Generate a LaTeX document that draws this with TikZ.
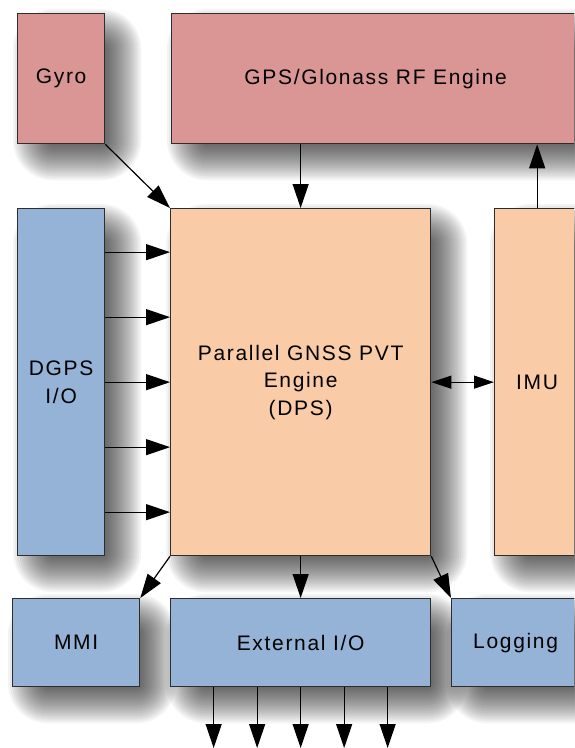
\documentclass[tikz,border=0pt]{standalone}
\usepackage{fontspec}
\setmainfont{Liberation Sans}[LetterSpace=8]
\usetikzlibrary{arrows.meta}
\pgfdeclarelayer{bg}
\pgfsetlayers{bg,main}
\definecolor{redf}{RGB}{217,150,148}
\definecolor{peachf}{RGB}{249,203,167}
\definecolor{bluef}{RGB}{149,179,215}
\definecolor{edge}{RGB}{45,45,45}
\tikzset{
  box/.style={draw=edge, line width=1.3pt, anchor=north west, inner sep=0pt,
    font=\fontsize{21}{27.5}\selectfont, align=center},
  arr/.style={-{Triangle[length=24pt,width=16pt]}, line width=1.2pt, draw=black},
  arrtwo/.style={{Triangle[length=20pt,width=13pt]}-{Triangle[length=20pt,width=13pt]}, line width=1.2pt, draw=black},
  shade layer/.style={fill=black, fill opacity=0.045}
}
\newcommand{\softshadow}[1]{%
  \begin{pgfonlayer}{bg}
  \foreach \e in {-20,-18,...,20} {
    \pgfmathsetmacro{\rr}{max(\e+20,1)}
    \fill[shade layer, rounded corners=\rr pt]
      ([shift={(16pt-\e pt,-16pt+\e pt)}]#1.north west) rectangle
      ([shift={(16pt+\e pt,-16pt-\e pt)}]#1.south east);
  }
  \end{pgfonlayer}}
\begin{document}
\begin{tikzpicture}[x=1pt,y=-1pt]
\clip (0,0) rectangle (574,748);
\begin{pgfonlayer}{bg}
\fill[white] (0,0) rectangle (574,748);
\end{pgfonlayer}
\node[box, fill=redf, minimum width=87pt, minimum height=130pt] (gyro) at (17,13) {Gyro};
\node[box, fill=redf, minimum width=408pt, minimum height=130pt] (gps) at (171,13) {GPS/Glonass RF Engine};
\node[box, fill=bluef, minimum width=87pt, minimum height=347pt] (dgps) at (17,208) {DGPS\\I/O};
\node[box, fill=peachf, minimum width=260pt, minimum height=347pt] (dps) at (170,208) {Parallel GNSS PVT\\Engine\\(DPS)};
\node[box, fill=peachf, minimum width=85pt, minimum height=347pt] (imu) at (494,208) {IMU};
\node[box, fill=bluef, minimum width=127pt, minimum height=88pt] (mmi) at (12,598) {MMI};
\node[box, fill=bluef, minimum width=260pt, minimum height=88pt] (ext) at (170,598) {External I/O};
\node[box, fill=bluef, minimum width=128pt, minimum height=88pt] (log) at (451,598) {Logging};
\softshadow{gyro}\softshadow{gps}\softshadow{dgps}\softshadow{dps}
\softshadow{imu}\softshadow{mmi}\softshadow{ext}\softshadow{log}
\draw[arr] (gyro.south east) -- (dps.north west);
\draw[arr] (gps.south -| dps.north) -- (dps.north);
\draw[arr] (imu.north) -- (imu.north |- gps.south);
\foreach \dy in {-130,-65,0,65,130}
  \draw[arr] ([yshift=\dy pt]dgps.east) -- ([yshift=\dy pt]dgps.east -| dps.west);
\draw[arrtwo] (dps.east) -- (imu.west);
\draw[arr] (dps.south west) -- (mmi.north east);
\draw[arr] (dps.south) -- (ext.north);
\draw[arr] (dps.south east) -- (log.north west);
\foreach \i/\dx in {1/-87,2/-43.5,3/0,4/43.5,5/87} {
  \coordinate (out\i) at ([xshift=\dx pt]ext.south |- 0,748);
  \draw[arr] ([xshift=\dx pt]ext.south) -- (out\i);
}
\end{tikzpicture}
\end{document}
